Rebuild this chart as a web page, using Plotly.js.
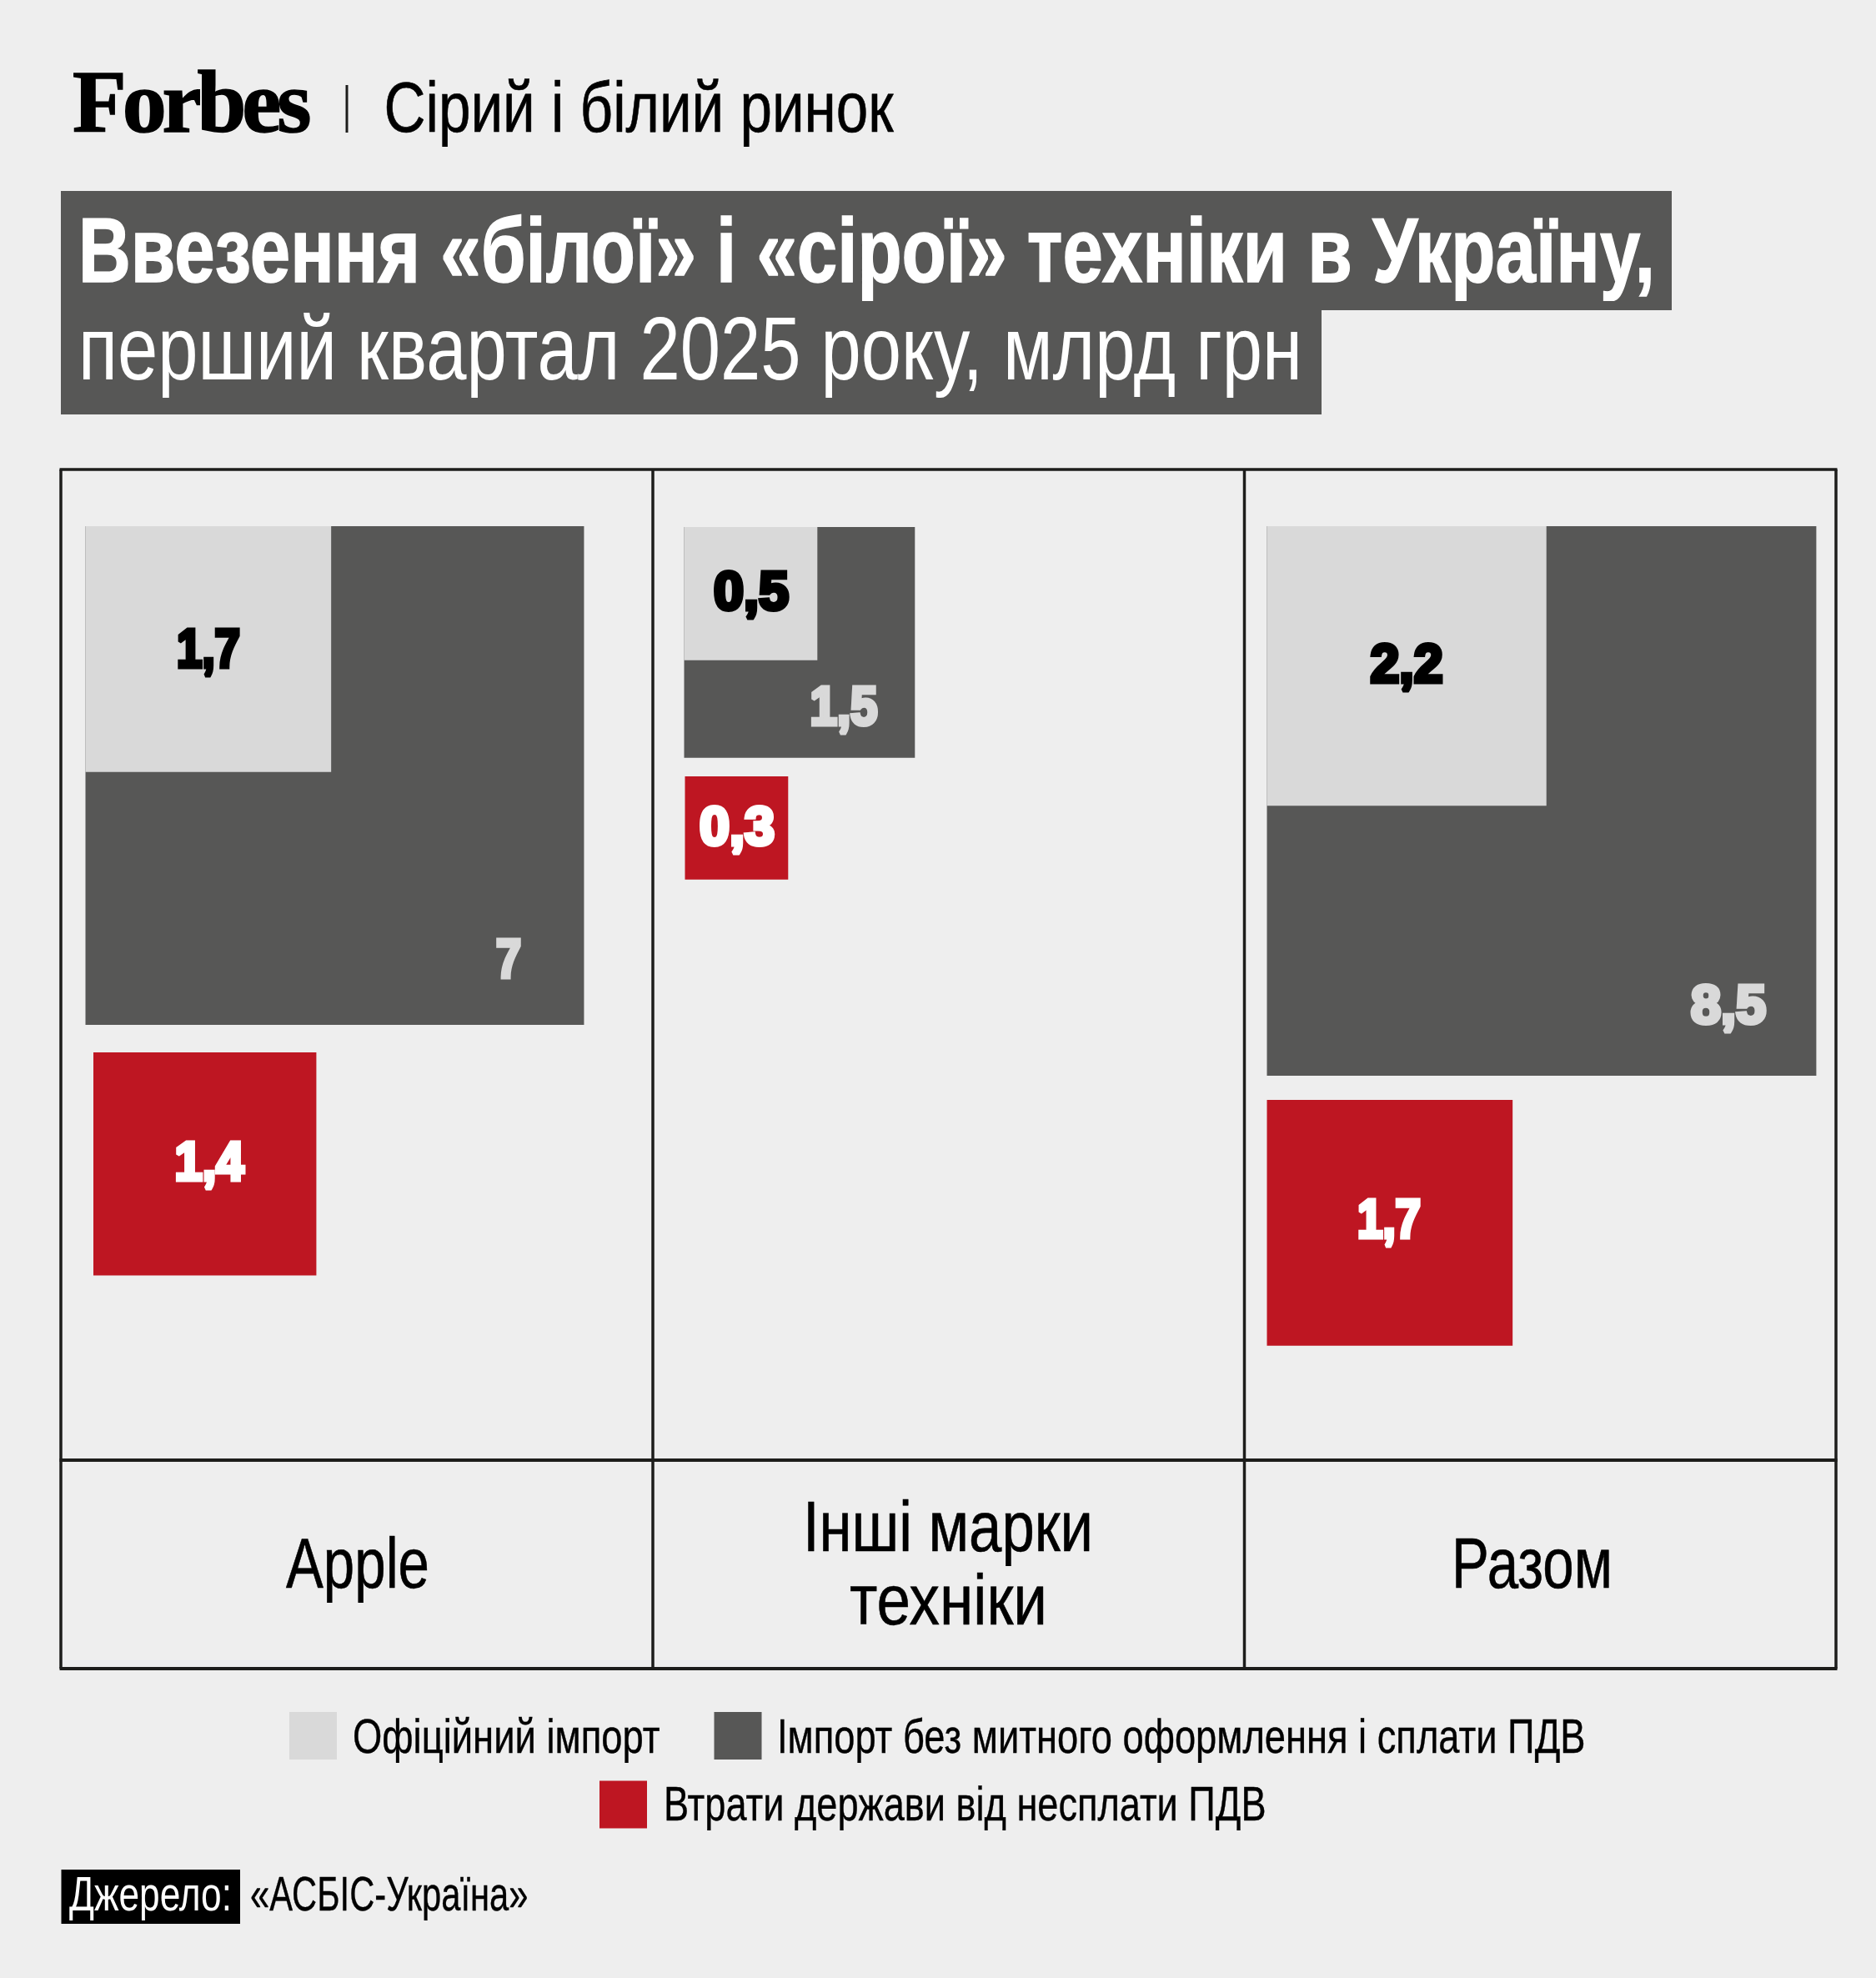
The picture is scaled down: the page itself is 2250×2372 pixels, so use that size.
<!DOCTYPE html>
<html>
<head>
<meta charset="utf-8">
<script src="https://cdn.plot.ly/plotly-3.0.1.min.js"></script>
<style>html,body{margin:0;padding:0;background:#eeeeee}#chart{width:2250px;height:2372px}</style>
</head>
<body>
<div id="chart"></div>
<script>
// ---- data (billions of UAH) ----
const categories = ["Apple", "Інші марки техніки", "Разом"];
const officialImport = [1.7, 0.5, 2.2];
const greyImport = [7, 1.5, 8.5];
const stateLosses = [1.4, 0.3, 1.7];
const seriesNames = ["Офіційний імпорт", "Імпорт без митного оформлення і сплати ПДВ", "Втрати держави від несплати ПДВ"];

// ---- layout / style ----
const W = 2250, H = 2372;
const BG = "#eeeeee", DARK = "#575756", LIGHT = "#d9d9d9", RED = "#be1622", INK = "#1d1d1b";
const NARROW = "'Liberation Sans Narrow','Liberation Sans',sans-serif";
const SERIF = "'Liberation Serif',serif";
const pxPerRootValue = 226;            // square side = k * sqrt(value)
const greyOrigin = [[102.5, 631], [820.5, 632], [1519.5, 631]];
const redOrigin = [[112, 1262], [821.5, 931], [1519.5, 1319]];
const officialLabelPos = [[250, 784], [901, 715], [1687, 802]];
const greyLabelPos = [[610, 1156], [1012, 853], [2073, 1211]];
const redLabelPos = [[251, 1399], [884, 997], [1666, 1468]];
const officialLabelWidth = [78, 92, 89];
const greyLabelWidth = [32, 83, 92];
const redLabelWidth = [85, 92, 78];

function square(x0, y0, value) {
  const s = pxPerRootValue * Math.sqrt(value);
  return {x: [x0, x0 + s, x0 + s, x0, x0], y: [y0, y0, y0 + s, y0 + s, y0]};
}
function squareTrace(name, values, origins, color) {
  const x = [], y = [];
  values.forEach((v, i) => {
    const q = square(origins[i][0], origins[i][1], v);
    x.push(...q.x, null); y.push(...q.y, null);
  });
  return {type: "scatter", mode: "lines", name, x, y, fill: "toself", fillcolor: color,
          line: {width: 0, color}, hoverinfo: "name", showlegend: false};
}
function labelTrace(name, values, pos, color) {
  return {type: "scatter", mode: "text", name, x: pos.map(p => p[0]), y: pos.map(p => p[1]),
          text: values.map(v => String(v).replace(".", ",")), textposition: "middle center",
          textfont: {family: NARROW, size: 64, color, weight: 700},
          hoverinfo: "skip", showlegend: false};
}
function keyTrace(name, cx, cy, color) {
  return {type: "scatter", mode: "markers", name, x: [cx], y: [cy],
          marker: {symbol: "square", size: 57, color, line: {width: 0}},
          hoverinfo: "name", showlegend: false};
}

const traces = [
  squareTrace(seriesNames[1], greyImport, greyOrigin, DARK),
  squareTrace(seriesNames[0], officialImport, greyOrigin, LIGHT),
  squareTrace(seriesNames[2], stateLosses, redOrigin, RED),
  labelTrace(seriesNames[0] + " labels", officialImport, officialLabelPos, "#000000"),
  labelTrace(seriesNames[1] + " labels", greyImport, greyLabelPos, LIGHT),
  labelTrace(seriesNames[2] + " labels", stateLosses, redLabelPos, "#ffffff"),
  keyTrace(seriesNames[0], 375.5, 2081.5, LIGHT),
  keyTrace(seriesNames[1], 885, 2081.5, DARK),
  keyTrace(seriesNames[2], 747.5, 2164, RED)
];

function rect(x0, y0, x1, y1, color) {
  return {type: "rect", xref: "x", yref: "y", x0, y0, x1, y1, fillcolor: color, line: {width: 0}, layer: "below"};
}
function rule(x0, y0, x1, y1, width) {
  return {type: "line", xref: "x", yref: "y", x0, y0, x1, y1, line: {color: INK, width}, layer: "above"};
}
const shapes = [
  rect(73, 229, 2005, 372, DARK),
  rect(73, 372, 1585, 497, DARK),
  rect(73.5, 2242, 288, 2307, "#000000"),
  rule(416, 102, 416, 159, 3),
  rule(71.5, 563, 2203.5, 563, 3.5),
  rule(71.5, 1751, 2203.5, 1751, 4),
  rule(71.5, 2001, 2203.5, 2001, 4),
  rule(73, 563, 73, 2001, 3.5),
  rule(783, 563, 783, 2001, 3.5),
  rule(1492.5, 563, 1492.5, 2001, 3.5),
  rule(2202, 563, 2202, 2001, 3.5)
];

// text: [content, left, right, baseline, size, family, weight, colour, extra stroke]
const texts = [
  ["Forbes", 87.5, 374, 159, 106, SERIF, 700, "#000000", 1.5],
  ["Сірий і білий ринок", 461, 1072, 158, 85, NARROW, 400, "#000000", 0.6],
  ["Ввезення «білої» і «сірої» техніки в Україну,", 94, 1985, 338, 109, NARROW, 700, "#ffffff", 1.5],
  ["перший квартал 2025 року, млрд грн", 94, 1562, 455, 107, NARROW, 400, "#ffffff", 0],
  [categories[0], 343, 515, 1904, 85, NARROW, 400, "#000000", 0.6],
  ["Інші марки", 963, 1311, 1860, 85, NARROW, 400, "#000000", 0.6],
  ["техніки", 1019, 1256, 1948, 85, NARROW, 400, "#000000", 0.6],
  [categories[2], 1741, 1934, 1904, 85, NARROW, 400, "#000000", 0.6],
  [seriesNames[0], 423.5, 792, 2102, 58, NARROW, 400, "#000000", 0.4],
  [seriesNames[1], 932.5, 1902, 2102, 58, NARROW, 400, "#000000", 0.4],
  [seriesNames[2], 796, 1518.5, 2183, 58, NARROW, 400, "#000000", 0.4],
  ["Джерело:", 83, 278, 2291, 58, NARROW, 400, "#ffffff", 0],
  ["«АСБІС-Україна»", 300.5, 634, 2291, 58, NARROW, 400, "#000000", 0.4]
];
const annotations = texts.map(t => ({
  xref: "x", yref: "y", x: (t[1] + t[2]) / 2, y: t[3] - 0.3465 * t[4],
  xanchor: "center", yanchor: "middle", align: "center", showarrow: false, text: t[0],
  width: t[2] - t[1] + 16,
  font: {family: t[5], size: t[4], weight: t[6], color: t[7]}, borderpad: 0
}));

const layout = {
  width: W, height: H, autosize: false, margin: {l: 0, r: 0, t: 0, b: 0},
  paper_bgcolor: BG, plot_bgcolor: BG, showlegend: false, hovermode: "closest",
  xaxis: {range: [0, W], visible: false, fixedrange: true},
  yaxis: {range: [H, 0], visible: false, fixedrange: true},
  shapes, annotations
};

Plotly.newPlot("chart", traces, layout, {displayModeBar: false}).then(gd => {
  // fit each text line to the width it has in the reference
  gd.querySelectorAll(".annotation-text").forEach((el, i) => {
    el.setAttribute("textLength", texts[i][2] - texts[i][1]);
    el.setAttribute("lengthAdjust", texts[i][0] === "Forbes" ? "spacing" : "spacingAndGlyphs");
    if (texts[i][8]) {
      el.style.stroke = texts[i][7];
      el.style.strokeWidth = texts[i][8] + "px";
    }
  });
  // narrow, heavy figures for the value labels
  const widths = [...officialLabelWidth, ...greyLabelWidth, ...redLabelWidth];
  gd.querySelectorAll(".textpoint text").forEach((el, i) => {
    el.setAttribute("textLength", widths[i] - 2);
    el.setAttribute("lengthAdjust", "spacingAndGlyphs");
    el.style.stroke = el.style.fill;
    el.style.strokeWidth = "5px";
    el.style.strokeLinejoin = "miter";
  });
});
</script>
</body>
</html>
